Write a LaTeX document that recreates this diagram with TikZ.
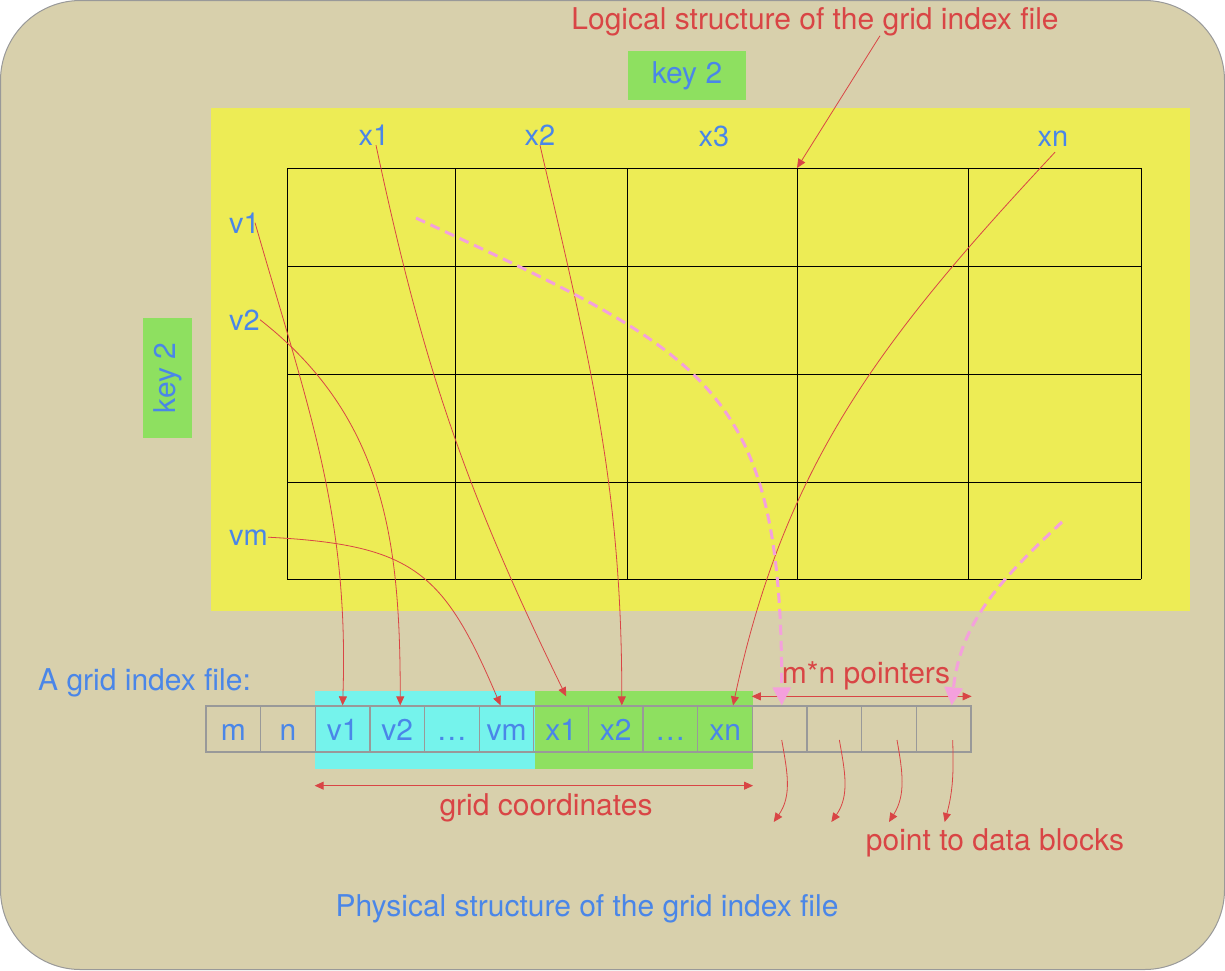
\documentclass[tikz,border=0pt]{standalone}
\usepackage{fontspec}
\setmainfont{TeX Gyre Heros}
\usetikzlibrary{arrows.meta}

\definecolor{bgsand}{RGB}{216,208,172}
\definecolor{gridyellow}{RGB}{237,236,85}
\definecolor{labblue}{RGB}{74,134,232}
\definecolor{notered}{RGB}{217,69,69}
\definecolor{keygreen}{RGB}{142,224,96}
\definecolor{cellcyan}{RGB}{117,243,236}
\definecolor{ptrpink}{RGB}{244,160,220}
\definecolor{cellgray}{RGB}{153,153,153}

\tikzset{
  lab/.style={text=labblue, inner sep=0pt, font=\fontsize{29}{34}\selectfont},
  note/.style={text=notered, inner sep=0pt, font=\fontsize{30}{36}\selectfont},
  cell/.style={draw=cellgray, line width=1.3pt, minimum width=54.64pt, minimum height=46pt,
    inner sep=0pt, text=labblue, font=\fontsize{30}{34}\selectfont, text height=22pt, text depth=0pt},
  keybox/.style={fill=keygreen, text=labblue, inner sep=0pt, font=\fontsize{30}{34}\selectfont},
  link/.style={draw=notered, line width=0.8pt, ->},
  span/.style={draw=notered, line width=0.8pt, <->},
  ptr/.style={draw=ptrpink, line width=3pt, dash pattern=on 10pt off 6pt,
    -{Triangle[length=18pt,width=18pt]}},
  gridline/.style={line width=0.9pt}
}

\begin{document}
\begin{tikzpicture}[x=1pt, y=-1pt, >={Triangle[length=9pt,width=8pt]}]
  \useasboundingbox (0,0) rectangle (1225,970);
  \filldraw[fill=bgsand, draw=cellgray, line width=1pt, rounded corners=80pt] (0.5,0.5) rectangle (1224.5,969.5);

  % logical structure
  \fill[gridyellow] (211,108) rectangle (1190,611);
  \foreach \x in {287,455,627,797,968,1141}
    \draw[gridline] (\x,168) -- (\x,579);
  \foreach \y in {168,266,374,482,579}
    \draw[gridline] (287,\y) -- (1141,\y);
  \coordinate (gtop) at (797,168);

  \node[note, anchor=base] (title) at (815,29) {Logical structure of the grid index file};
  \node[keybox, minimum width=118pt, minimum height=49pt] (keytop) at (687,75.5) {key 2};
  \node[keybox, rotate=90, minimum width=120pt, minimum height=49pt] (keyleft) at (167.5,378) {key 2};

  \node[lab, anchor=base] (lx1) at (374,145) {x1};
  \node[lab, anchor=base] (lx2) at (540,145) {x2};
  \node[lab, anchor=base] (lx3) at (714,146) {x3};
  \node[lab, anchor=base] (lxn) at (1053,146) {xn};
  \node[lab, anchor=base west] (lv1) at (229,233) {v1};
  \node[lab, anchor=base west] (lv2) at (229,330) {v2};
  \node[lab, anchor=base west] (lvm) at (229,545) {vm};

  % physical structure
  \fill[cellcyan] (315,691) rectangle (535,769);
  \fill[keygreen] (535,691) rectangle (753,769);
  \foreach \n/\t [count=\i] in {m/m, n/n, v1/v1, v2/v2, vd/…, vm/vm, x1/x1, x2/x2, xd/…, xn/xn,
      p1/{}, p2/{}, p3/{}, p4/{}}
    \node[cell] (c\n) at ({206+54.64*(\i-0.5)},729) {\t};

  \node[lab, font=\fontsize{30}{36}\selectfont, anchor=base west] (gif) at (38,690) {A grid index file:};
  \node[note, anchor=base] (gridc) at (546,815) {grid coordinates};
  \node[note, anchor=base] (mn) at (866,683) {m*n pointers};
  \node[note, anchor=base] (pdb) at (995,850) {point to data blocks};
  \node[lab, font=\fontsize{30}{36}\selectfont, anchor=base] (phys) at (587,916) {Physical structure of the grid index file};

  \draw[span] ([yshift=-33pt]cv1.south west) -- ([yshift=-33pt]cxn.south east);
  \draw[span] ([yshift=9pt]cp1.north west) -- ([yshift=9pt]cp4.north east);

  % links from the grid to the file
  \draw[link] ([xshift=65pt]title.south) -- (gtop);
  \draw[link] ([xshift=-5pt]lv1.east) to[out=-74,in=88] (cv1.north);
  \draw[link] (lv2.east) to[out=-38,in=90] ([xshift=3pt]cv2.north);
  \draw[link] (lvm.east) to[out=-3,in=113,looseness=1.3] ([xshift=-6pt]cvm.north);
  \draw[link] ([xshift=2pt]lx1.south) to[out=-78,in=116] ([xshift=5pt,yshift=9pt]cx1.north);
  \draw[link] (lx2.south) to[out=-77,in=90] ([xshift=6pt]cx2.north);
  \draw[link] ([xshift=2pt,yshift=-6pt]lxn.south) to[out=-133,in=78] ([xshift=8pt]cxn.north);

  \coordinate (pk1) at (416,218);
  \coordinate (pk2) at (1062,522);
  \draw[ptr] (pk1) to[out=-25,in=90,looseness=1.35] ([xshift=2pt]cp1.north);
  \draw[ptr] (pk2) to[out=-137,in=84] ([xshift=8pt]cp4.north);

  \foreach \n/\dx/\o/\j in {p1/2/-80/55, p2/5/-80/55, p3/8/-80/58, p4/9/-88/75} {
    \coordinate (d\n) at ([xshift={(\dx-8)*1pt},yshift=-93pt]c\n.center);
    \draw[link] ([xshift=\dx pt,yshift=-11pt]c\n.center) to[out=\o,in=\j] (d\n);
  }
\end{tikzpicture}
\end{document}
